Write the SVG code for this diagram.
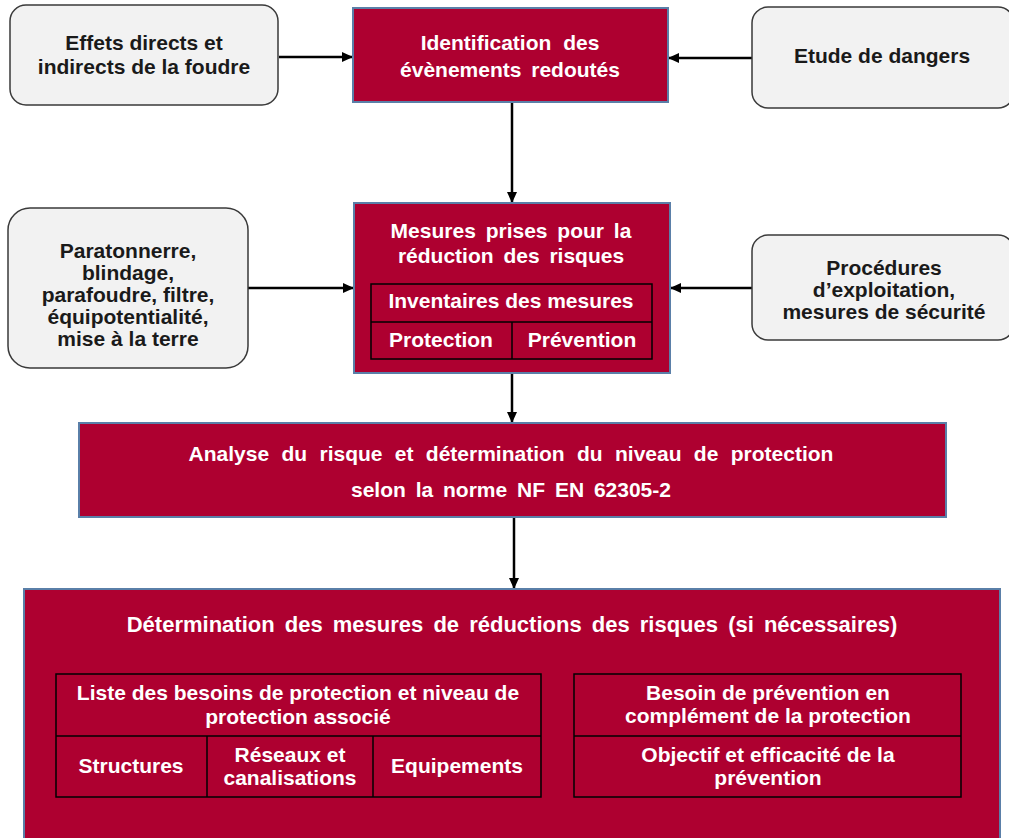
<svg xmlns="http://www.w3.org/2000/svg" width="1009" height="838" viewBox="0 0 1009 838">
<defs>
<marker id="ah" markerWidth="11" markerHeight="11" refX="10" refY="5.5" orient="auto" markerUnits="userSpaceOnUse">
<path d="M0,0.5 L11,5.5 L0,10.5 Z" fill="#000"/>
</marker>
<style>
.g{fill:#f2f2f2;stroke:#3a3a3a;stroke-width:1.5}
.r{fill:#ae0030;stroke:#5a7fa8;stroke-width:2}
.c{fill:none;stroke:#000;stroke-width:1.5}
.t{font-family:"Liberation Sans",Arial,sans-serif;font-weight:bold;font-size:21px;text-anchor:middle}
.tk{fill:#1a1a1a}
.tw{fill:#ffffff}
.e{stroke:#000;stroke-width:2.5;fill:none;marker-end:url(#ah)}
</style>
</defs>
<rect width="1009" height="838" fill="#fff"/>
<g id="connectors">
<line class="e" x1="279" y1="57" x2="352" y2="57"/>
<line class="e" x1="752" y1="58" x2="669" y2="58"/>
<line class="e" x1="512" y1="102" x2="512" y2="202"/>
<line class="e" x1="248" y1="288" x2="353" y2="288"/>
<line class="e" x1="752" y1="288" x2="671" y2="288"/>
<line class="e" x1="512" y1="373" x2="512" y2="422"/>
<line class="e" x1="514" y1="517" x2="514" y2="588"/>
</g>
<g id="effets">
<rect class="g" x="10" y="5" width="268" height="100" rx="16"/>
<text class="t tk" x="144" y="50">Effets directs et</text>
<text class="t tk" x="144" y="74">indirects de la foudre</text>
</g>
<g id="identification">
<rect class="r" x="353" y="8" width="315" height="94"/>
<text class="t tw" x="510" y="50" word-spacing="6">Identification des</text>
<text class="t tw" x="510" y="77" word-spacing="4">évènements redoutés</text>
</g>
<g id="etude">
<rect class="g" x="752" y="7" width="262" height="101" rx="16"/>
<text class="t tk" x="882" y="63">Etude de dangers</text>
</g>
<g id="paratonnerre">
<rect class="g" x="8" y="208" width="240" height="160" rx="22"/>
<text class="t tk" x="128" y="258">Paratonnerre,</text>
<text class="t tk" x="128" y="280">blindage,</text>
<text class="t tk" x="128" y="302">parafoudre, filtre,</text>
<text class="t tk" x="128" y="324">équipotentialité,</text>
<text class="t tk" x="128" y="346">mise à la terre</text>
</g>
<g id="mesures">
<rect class="r" x="354" y="203" width="316" height="170"/>
<text class="t tw" x="511" y="238" word-spacing="4">Mesures prises pour la</text>
<text class="t tw" x="511" y="263" word-spacing="4">réduction des risques</text>
<rect class="c" x="371" y="284" width="281" height="75"/>
<line class="c" x1="371" y1="322" x2="652" y2="322"/>
<line class="c" x1="512" y1="322" x2="512" y2="359"/>
<text class="t tw" x="511" y="308">Inventaires des mesures</text>
<text class="t tw" x="441" y="347">Protection</text>
<text class="t tw" x="582" y="347">Prévention</text>
</g>
<g id="procedures">
<rect class="g" x="752" y="235" width="262" height="105" rx="16"/>
<text class="t tk" x="884" y="275">Procédures</text>
<text class="t tk" x="884" y="297">d’exploitation,</text>
<text class="t tk" x="884" y="319">mesures de sécurité</text>
</g>
<g id="analyse">
<rect class="r" x="79" y="423" width="867" height="94"/>
<text class="t tw" x="511" y="461" word-spacing="6.5">Analyse du risque et détermination du niveau de protection</text>
<text class="t tw" x="511" y="497" word-spacing="4">selon la norme NF EN 62305-2</text>
</g>
<g id="determination">
<rect class="r" x="24" y="589" width="976" height="260"/>
<text class="t tw" x="512" y="632" style="font-size:22px" word-spacing="4">Détermination des mesures de réductions des risques (si nécessaires)</text>
<rect class="c" x="56" y="674" width="485" height="123"/>
<line class="c" x1="56" y1="736" x2="541" y2="736"/>
<line class="c" x1="207" y1="736" x2="207" y2="797"/>
<line class="c" x1="373" y1="736" x2="373" y2="797"/>
<text class="t tw" x="298" y="700">Liste des besoins de protection et niveau de</text>
<text class="t tw" x="298" y="724">protection associé</text>
<text class="t tw" x="131" y="773">Structures</text>
<text class="t tw" x="290" y="762">Réseaux et</text>
<text class="t tw" x="290" y="785">canalisations</text>
<text class="t tw" x="457" y="773">Equipements</text>
<rect class="c" x="574" y="674" width="387" height="123"/>
<line class="c" x1="574" y1="736" x2="961" y2="736"/>
<text class="t tw" x="768" y="700">Besoin de prévention en</text>
<text class="t tw" x="768" y="723">complément de la protection</text>
<text class="t tw" x="768" y="762">Objectif et efficacité de la</text>
<text class="t tw" x="768" y="785">prévention</text>
</g>
</svg>
